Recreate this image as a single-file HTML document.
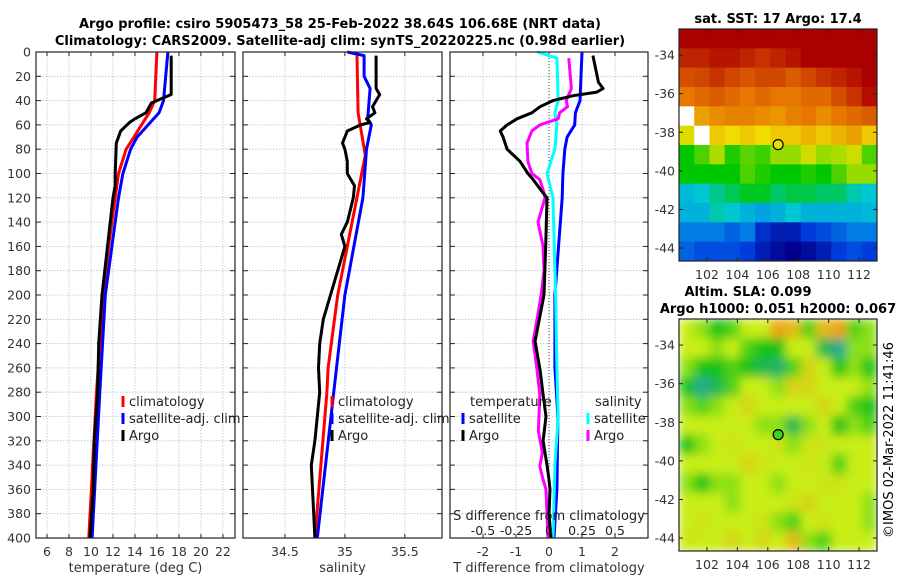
<!DOCTYPE html>
<html><head><meta charset="utf-8">
<style>
html,body{margin:0;padding:0;background:#fff;}
svg{display:block;font-family:"DejaVu Sans","Liberation Sans",sans-serif;}
</style></head>
<body>
<svg id="fig" width="900" height="580" viewBox="0 0 900 580" xmlns="http://www.w3.org/2000/svg">
<defs>
<filter id="blur" x="-5%" y="-5%" width="110%" height="110%"><feGaussianBlur stdDeviation="5" edgeMode="duplicate"/></filter>
<clipPath id="slaclip"><rect x="679" y="319" width="198" height="232"/></clipPath>
</defs>
<text x="340" y="28" font-size="13" font-weight="bold" text-anchor="middle">Argo profile: csiro 5905473_58 25-Feb-2022 38.64S 106.68E (NRT data)</text>
<text x="340" y="45" font-size="13" font-weight="bold" text-anchor="middle">Climatology: CARS2009. Satellite-adj clim: synTS_20220225.nc (0.98d earlier)</text>
<text x="778" y="23" font-size="13" font-weight="bold" text-anchor="middle">sat. SST: 17 Argo: 17.4</text>
<text x="748" y="296" font-size="13" font-weight="bold" text-anchor="middle">Altim. SLA: 0.099</text>
<text x="778" y="313" font-size="13" font-weight="bold" text-anchor="middle">Argo h1000: 0.051 h2000: 0.067</text>
<text x="0" y="0" font-size="13" text-anchor="middle" transform="translate(893,440) rotate(-90)">©IMOS 02-Mar-2022 11:41:46</text>
<g id="layer"></g>
</svg>
<script>
// ---------- Profile data (depth in dbar) ----------
var tClimDepth = [0,40,50,60,70,80,100,120,160,200,280,400];
var tClimVal   = [16.0,15.8,15.3,14.6,13.9,13.2,12.5,12.2,11.6,11.1,10.5,9.8];
var tSatDepth  = [0,40,50,60,70,80,100,120,200,280,400];
var tSatVal    = [17.0,16.6,16.2,15.2,14.2,13.6,12.9,12.5,11.3,10.8,10.1];
var tArgoDepth = [3,35,38,42,50,55,58,65,75,100,110,120,160,200,240,280,320,360,400];
var tArgoVal   = [17.3,17.3,16.5,15.5,15.0,14.0,13.5,12.7,12.3,12.2,12.2,12.0,11.5,11.0,10.7,10.6,10.3,10.2,9.9];

var sClimDepth = [0,50,85,120,200,260,280,400];
var sClimVal   = [35.10,35.11,35.17,35.10,34.94,34.86,34.85,34.75];
var sSatDepth  = [0,3,20,30,55,60,80,120,200,260,400];
var sSatVal    = [35.02,35.16,35.16,35.21,35.19,35.22,35.18,35.15,35.00,34.93,34.77];
var sArgoDepth = [3,30,35,45,50,55,58,60,65,75,80,90,100,110,120,140,150,160,180,200,220,240,260,280,320,340,360,400];
var sArgoVal   = [35.26,35.26,35.29,35.23,35.25,35.18,35.21,35.13,35.02,34.98,35.00,35.02,35.02,35.08,35.07,35.02,34.97,35.00,34.94,34.88,34.82,34.79,34.78,34.79,34.75,34.72,34.73,34.75];

var dTSatDepth  = [0,40,50,60,70,80,100,120,200,260,300,360,400];
var dTSatVal    = [1.0,0.94,0.8,0.78,0.55,0.48,0.42,0.40,0.18,0.18,0.27,0.24,0.15];
var dTArgoDepth = [3,25,30,33,36,40,45,50,55,60,65,70,80,90,100,105,115,120,160,200,238,262,282,300,320,340,352,360,380,400];
var dTArgoVal   = [1.33,1.5,1.64,1.45,0.73,0.12,-0.27,-0.52,-0.97,-1.27,-1.48,-1.39,-1.27,-0.88,-0.64,-0.48,-0.21,-0.06,-0.10,-0.15,-0.42,-0.27,-0.18,-0.09,-0.18,-0.06,0.0,0.03,0.0,0.06];
var dSSatDepth  = [0,5,40,50,60,80,100,120,200,260,300,340,400];
var dSSatVal    = [-0.09,0.06,0.07,0.045,0.06,0.045,-0.015,0.03,0.05,0.06,0.07,0.045,0.03];
var dSArgoDepth = [5,30,40,45,50,55,60,65,75,90,100,105,115,120,140,160,180,200,220,238,262,282,312,330,341,352,360,380,400];
var dSArgoVal   = [0.15,0.17,0.13,0.14,0.08,0.07,-0.07,-0.13,-0.167,-0.16,-0.13,-0.07,-0.04,-0.03,-0.083,-0.045,-0.038,-0.06,-0.09,-0.12,-0.09,-0.07,-0.08,-0.05,-0.07,-0.045,-0.023,-0.015,-0.008];

var depthTicks = [0,20,40,60,80,100,120,140,160,180,200,220,240,260,280,300,320,340,360,380,400];
var tempTicks  = [6,8,10,12,14,16,18,20,22];
var salTicks   = [34.5,35,35.5];
var salTickLabels = ["34.5","35","35.5"];
var dTTicks    = [-2,-1,0,1,2];
var dSTicks    = [-0.5,-0.25,0,0.25,0.5];
var dSTickLabels = ["-0.5","-0.25","0","0.25","0.5"];

// ---------- Map data (13 lon cols x 12 lat rows, 1 deg) ----------
var mapLatTicks = [-34,-36,-38,-40,-42,-44];
var mapLonTicks = [102,104,106,108,110,112];
var argoLon = 106.68, argoLat = -38.64;
var sstGrid = [
 [.95,.95,.95,.95,.95,.95,.95,.95,.95,.95,.95,.95,.95],
 [.90,.90,.92,.92,.90,.88,.90,.92,.95,.95,.95,.95,.95],
 [.84,.85,.88,.85,.83,.85,.85,.82,.85,.88,.90,.92,.95],
 [.78,.80,.82,.80,.78,.80,.78,.78,.80,.80,.84,.88,.93],
 [null,.74,.76,.77,.77,.76,.75,.77,.78,.76,.78,.80,.82],
 [.66,null,.70,.68,.70,.68,.70,.70,.72,.70,.72,.74,.70],
 [.50,.55,.62,.52,.56,.54,.60,.60,.65,.60,.62,.65,.55],
 [.50,.50,.50,.50,.55,.52,.50,.50,.52,.50,.55,.60,.60],
 [.36,.38,.42,.45,.48,.48,.44,.46,.46,.44,.44,.40,.38],
 [.35,.35,.40,.38,.35,.33,.35,.38,.35,.35,.35,.35,.36],
 [.28,.28,.28,.25,.28,.18,.15,.15,.20,.22,.25,.28,.28],
 [.25,.22,.22,.22,.20,.15,.12,.10,.12,.15,.20,.22,.20]
];
var slaGrid = [
 [.60,.55,.45,.50,.60,.60,.75,.70,.50,.70,.75,.50,.55],
 [.60,.60,.55,.60,.50,.45,.45,.60,.60,.40,.35,.55,.55],
 [.55,.45,.45,.50,.45,.40,.38,.50,.65,.60,.45,.55,.45],
 [.45,.35,.40,.50,.60,.60,.55,.65,.65,.60,.60,.60,.55],
 [.55,.50,.55,.60,.65,.60,.60,.60,.60,.65,.60,.50,.45],
 [.60,.60,.60,.60,.60,.55,.55,.40,.55,.60,.45,.55,.50],
 [.45,.55,.60,.62,.60,.60,.62,.55,.62,.62,.60,.60,.60],
 [.60,.60,.60,.60,.65,.62,.60,.60,.62,.60,.50,.60,.60],
 [.55,.45,.55,.55,.60,.60,.55,.60,.60,.62,.62,.60,.60],
 [.60,.60,.60,.55,.60,.60,.60,.62,.65,.60,.60,.60,.55],
 [.60,.62,.60,.60,.60,.62,.55,.50,.60,.62,.60,.60,.55],
 [.62,.60,.60,.65,.60,.65,.60,.70,.55,.50,.60,.60,.60]
];

var NS="http://www.w3.org/2000/svg";
var layer=document.getElementById('layer');
function mk(tag,attrs,parent){var e=document.createElementNS(NS,tag);for(var k in attrs)e.setAttribute(k,attrs[k]);(parent||layer).appendChild(e);return e;}

var PT=52, PB=538;
function yDepth(d){return PT+(PB-PT)*d/400;}
function lin(d0,d1,r0,r1){return function(v){return r0+(v-d0)*(r1-r0)/(d1-d0);};}

var panels=[
 {name:'temperature-panel',x0:36,x1:235,sx:lin(5,23.1,36,235),ticks:tempTicks,labels:tempTicks.map(String),xlabel:'temperature (deg C)'},
 {name:'salinity-panel',x0:243,x1:442,sx:lin(34.15,35.81,243,442),ticks:salTicks,labels:salTickLabels,xlabel:'salinity'},
 {name:'difference-panel',x0:450,x1:648,sx:lin(-3,3,450,648),ticks:dTTicks,labels:dTTicks.map(String),xlabel:'T difference from climatology'}
];

panels.forEach(function(p,pi){
  var g=mk('g',{});
  
  
  depthTicks.forEach(function(d){
    var l=mk('line',{x1:p.x0,x2:p.x1,y1:yDepth(d),y2:yDepth(d),stroke:'#b8c0dc','stroke-width':0.8,'stroke-dasharray':'1.5,1.5'},g);
    
    
  });
  p.ticks.forEach(function(t,i){
    var x=p.sx(t);
    var l=mk('line',{x1:x,x2:x,y1:PT,y2:PB,stroke:'#b8c0dc','stroke-width':0.8,'stroke-dasharray':'1.5,1.5'},g);
    
    
    mk('line',{x1:x,x2:x,y1:PB,y2:PB-4,stroke:'#222','stroke-width':1},g);
    mk('line',{x1:x,x2:x,y1:PT,y2:PT+4,stroke:'#222','stroke-width':1},g);
    var tx=mk('text',{x:x,y:556,'font-size':12.5,'text-anchor':'middle',fill:'#333'},g);
    tx.textContent=p.labels[i];
    
    
  });
  depthTicks.forEach(function(d){
    mk('line',{x1:p.x0,x2:p.x0+5,y1:yDepth(d),y2:yDepth(d),stroke:'#222','stroke-width':1},g);
    mk('line',{x1:p.x1,x2:p.x1-5,y1:yDepth(d),y2:yDepth(d),stroke:'#222','stroke-width':1},g);
    if(pi===0){
      var tx=mk('text',{x:31,y:yDepth(d)+4.5,'font-size':12.5,'text-anchor':'end',fill:'#333'},g);
      tx.textContent=String(d);
      
      
    }
  });
  var xl=mk('text',{x:(p.x0+p.x1)/2,y:572,'font-size':13,'text-anchor':'middle',fill:'#333'},g);
  xl.textContent=p.xlabel;
  
  
});

var zl=mk('line',{x1:panels[2].sx(0),x2:panels[2].sx(0),y1:PT,y2:PB,stroke:'#444','stroke-width':1,'stroke-dasharray':'1,2'});



function series(depths,vals,sx,color,name){
  var pts=depths.map(function(d,i){return sx(vals[i]).toFixed(1)+','+yDepth(d).toFixed(1);}).join(' ');
  var pl=mk('polyline',{points:pts,fill:'none',stroke:color,'stroke-width':3,'stroke-linejoin':'round'});
  
  
}
var sT=panels[0].sx, sS=panels[1].sx, sD=panels[2].sx;
var sDS=function(v){return sD(v*4);};
series(tClimDepth,tClimVal,sT,'#f00','temp-climatology-line');
series(tSatDepth,tSatVal,sT,'#00f','temp-satellite-line');
series(tArgoDepth,tArgoVal,sT,'#000','temp-argo-line');
series(sClimDepth,sClimVal,sS,'#f00','sal-climatology-line');
series(sSatDepth,sSatVal,sS,'#00f','sal-satellite-line');
series(sArgoDepth,sArgoVal,sS,'#000','sal-argo-line');
series(dTSatDepth,dTSatVal,sD,'#00f','tdiff-satellite-line');
series(dSSatDepth,dSSatVal,sDS,'#0ff','sdiff-satellite-line');
series(dSArgoDepth,dSArgoVal,sDS,'#f0f','sdiff-argo-line');
series(dTArgoDepth,dTArgoVal,sD,'#000','tdiff-argo-line');

panels.forEach(function(p){
  var r=mk('rect',{x:p.x0,y:PT,width:p.x1-p.x0,height:PB-PT,fill:'none',stroke:'#222','stroke-width':1.2});
  
  
});

var sdl=mk('text',{x:549,y:520,'font-size':13,'text-anchor':'middle',fill:'#222'});
sdl.textContent='S difference from climatology';


dSTicks.forEach(function(t,i){
  var tx=mk('text',{x:sDS(t),y:535,'font-size':12.5,'text-anchor':'middle',fill:'#222'});
  tx.textContent=dSTickLabels[i];
  
  
});

function legend(x,y,color,label,name){
  var m=mk('line',{x1:x,x2:x,y1:y-10,y2:y+1,stroke:color,'stroke-width':3});
  
  
  var t=mk('text',{x:x+6,y:y,'font-size':13,fill:'#222'});
  t.textContent=label;
  
  
}
[[123,'climatology','#f00'],[123,'satellite-adj. clim','#00f'],[123,'Argo','#000']].forEach(function(e,i){legend(e[0],406+i*17,e[2],e[1],'legend-entry');});
[[332,'climatology','#f00'],[332,'satellite-adj. clim','#00f'],[332,'Argo','#000']].forEach(function(e,i){legend(e[0],406+i*17,e[2],e[1],'legend-entry');});
var lt=mk('text',{x:470,y:406,'font-size':13,fill:'#222'});lt.textContent='temperature';


var ls=mk('text',{x:595,y:406,'font-size':13,fill:'#222'});ls.textContent='salinity';


legend(463,423,'#00f','satellite','legend-entry');
legend(463,440,'#000','Argo','legend-entry');
legend(588,423,'#0ff','satellite','legend-entry');
legend(588,440,'#f0f','Argo','legend-entry');

// ---------- maps ----------
function ramp(stops){
  return function(v){
    if(v<=stops[0][0])return 'rgb('+stops[0][1].join(',')+')';
    for(var i=1;i<stops.length;i++){
      if(v<=stops[i][0]){
        var a=stops[i-1],b=stops[i],f=(v-a[0])/(b[0]-a[0]);
        return 'rgb('+[0,1,2].map(function(k){return Math.round(a[1][k]+f*(b[1][k]-a[1][k]));}).join(',')+')';
      }
    }
    return 'rgb('+stops[stops.length-1][1].join(',')+')';
  };
}
var sstColor=ramp([[0.1,[0,0,140]],[0.2,[0,60,220]],[0.3,[0,140,230]],[0.38,[0,200,210]],[0.5,[0,200,0]],[0.6,[150,220,0]],[0.68,[240,220,0]],[0.78,[230,120,0]],[0.88,[200,50,0]],[0.95,[170,0,0]]]);
var slaColor=ramp([[0.35,[40,170,140]],[0.45,[20,195,20]],[0.6,[200,238,20]],[0.75,[240,160,20]]]);
var LON0=100.16,LON1=113.18,LAT0=-32.65,LAT1=-44.67;
function drawMap(name,top,grid,cmap,markerFill,smooth){
  var X0=679,X1=877,Y0=top,Y1=top+232;
  var sx=lin(LON0,LON1,X0,X1), sy=lin(LAT0,LAT1,Y0,Y1);
  var g=mk('g',{});
  
  
  var cells=g;
  if(smooth){
    var cg=mk('g',{'clip-path':'url(#slaclip)'},g);
    cells=mk('g',{filter:'url(#blur)'},cg);
  }
  var nR=grid.length,nC=grid[0].length,dLon=(LON1-LON0)/nC,dLat=(LAT0-LAT1)/nR;
  for(var r=0;r<nR;r++)for(var c=0;c<nC;c++){
    var v=grid[r][c];
    var x=sx(LON0+c*dLon), y=sy(LAT0-r*dLat);
    var cell=mk('rect',{x:x.toFixed(2),y:y.toFixed(2),width:(sx(LON0+(c+1)*dLon)-x+0.5).toFixed(2),height:(sy(LAT0-(r+1)*dLat)-y+0.5).toFixed(2),fill:v===null?'#fff':cmap(v)},cells);
    
    
  }
  mk('rect',{x:X0,y:Y0,width:X1-X0,height:Y1-Y0,fill:'none',stroke:'#222','stroke-width':1.2},g);
  mapLatTicks.forEach(function(t){
    var y=sy(t);
    mk('line',{x1:X0,x2:X0+4,y1:y,y2:y,stroke:'#222'},g);
    mk('line',{x1:X1,x2:X1-4,y1:y,y2:y,stroke:'#222'},g);
    var tx=mk('text',{x:X0-4,y:y+4.5,'font-size':12.5,'text-anchor':'end',fill:'#333'},g);
    tx.textContent=String(t);
    
    
  });
  mapLonTicks.forEach(function(t){
    var x=sx(t);
    mk('line',{x1:x,x2:x,y1:Y1,y2:Y1-4,stroke:'#222'},g);
    mk('line',{x1:x,x2:x,y1:Y0,y2:Y0+4,stroke:'#222'},g);
    var tx=mk('text',{x:x,y:Y1+18,'font-size':12.5,'text-anchor':'middle',fill:'#333'},g);
    tx.textContent=String(t);
    
    
  });
  var m=mk('circle',{cx:sx(argoLon),cy:sy(argoLat),r:5,fill:markerFill,stroke:'#000','stroke-width':1.2},g);
  
  
}
drawMap('sst-map',29,sstGrid,sstColor,'#e0e000',false);
drawMap('sla-map',319,slaGrid,slaColor,'#40d020',true);
</script>
</body></html>
